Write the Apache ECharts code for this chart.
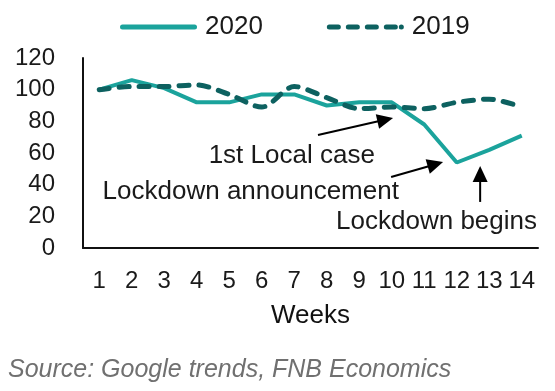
<!DOCTYPE html>
<html>
<head>
<meta charset="utf-8">
<script src="https://cdn.jsdelivr.net/npm/echarts@6/dist/echarts.min.js"></script>
<style>
html,body{margin:0;padding:0;background:#fff;}
#c{width:555px;height:391px;}
</style>
</head>
<body>
<div id="c"></div>
<script>
// ---- data ----
var weeks = ['1','2','3','4','5','6','7','8','9','10','11','12','13','14'];
var s2020 = [100, 106, 101, 92, 92, 97, 97, 90, 92, 92, 78, 54, 62, 71];
var s2019 = [100, 102, 102, 103, 97, 89, 102, 95, 88, 89, 88, 92, 94, 89];
var yTicks = { min: 0, max: 120, interval: 20 };
// annotations: [category index, value] in data space
var notes = [
  { text: '1st Local case',        at: [8.48, 58.1], from: [6.73, 71.4], to: [9.04, 82.1] },
  { text: 'Lockdown announcement', at: [9.22, 35.4], from: [8.98, 44.8], to: [10.58, 54.3] },
  { text: 'Lockdown begins',       at: [13.47, 16.4], from: [11.72, 29.1], to: [11.72, 51.8] }
];
var sourceText = 'Source: Google trends, FNB Economics';

var FONT = '"Liberation Sans", Arial, sans-serif';
var TXT = '#1a1a1a';
var C2020 = '#1ba39c', C2019 = '#0d6160';
var chart = echarts.init(document.getElementById('c'), null, { renderer: 'canvas' });

// legend icon shapes (77 x 5 box)
var iconSolid = 'path://M2.5,0 L74.5,0 A2.5,2.5 0 0 1 74.5,5 L2.5,5 A2.5,2.5 0 0 1 2.5,0 Z';
var iconDash = 'path://' +
  'M2.5,0 L11.5,0 A2.5,2.5 0 0 1 11.5,5 L2.5,5 A2.5,2.5 0 0 1 2.5,0 Z ' +
  'M21.5,0 L30.5,0 A2.5,2.5 0 0 1 30.5,5 L21.5,5 A2.5,2.5 0 0 1 21.5,0 Z ' +
  'M40.5,0 L49.5,0 A2.5,2.5 0 0 1 49.5,5 L40.5,5 A2.5,2.5 0 0 1 40.5,0 Z ' +
  'M59.5,0 L68.5,0 A2.5,2.5 0 0 1 68.5,5 L59.5,5 A2.5,2.5 0 0 1 59.5,0 Z ' +
  'M74.5,0 A2.5,2.5 0 0 1 74.5,5 A2.5,2.5 0 0 1 74.5,0 Z';

var option = {
  animation: false,
  backgroundColor: '#fff',
  textStyle: { fontFamily: FONT },
  grid: { left: 83, right: 17, top: 58, bottom: 143, containLabel: false },
  legend: {
    left: 115, top: 9,
    itemWidth: 77, itemHeight: 5, itemGap: 64,
    symbolKeepAspect: false,
    textStyle: { fontFamily: FONT, fontSize: 26, color: TXT, padding: [0, 0, 0, 3] },
    data: [
      { name: '2020', icon: iconSolid, itemStyle: { color: C2020 } },
      { name: '2019', icon: iconDash, itemStyle: { color: C2019 } }
    ]
  },
  xAxis: {
    type: 'category',
    data: weeks,
    boundaryGap: true,
    axisLine: { lineStyle: { color: '#111', width: 2 } },
    axisTick: { show: false },
    axisLabel: { fontFamily: FONT, fontSize: 24, color: TXT, margin: 21, interval: 0 },
    name: 'Weeks',
    nameLocation: 'middle',
    nameGap: 55,
    nameTextStyle: { fontFamily: FONT, fontSize: 26, color: '#111' }
  },
  yAxis: {
    type: 'value',
    min: yTicks.min, max: yTicks.max, interval: yTicks.interval,
    axisLine: { show: true, lineStyle: { color: '#111', width: 2 } },
    axisTick: { show: false },
    splitLine: { show: false },
    axisLabel: { fontFamily: FONT, fontSize: 24, color: TXT, margin: 28 }
  },
  series: [
    {
      name: '2020', type: 'line', data: s2020,
      symbol: 'none', smooth: false,
      lineStyle: { color: C2020, width: 4 },
      itemStyle: { color: C2020 },
      z: 3
    },
    {
      name: '2019', type: 'line', data: s2019,
      symbol: 'none', smooth: 0.3,
      lineStyle: { color: C2019, width: 5, type: [10, 10], cap: 'round' },
      itemStyle: { color: C2019 },
      z: 4
    }
  ]
};
chart.setOption(option);

function px(pt) {
  var a = chart.convertToPixel({ gridIndex: 0 }, [0, pt[1]]);
  var b = chart.convertToPixel({ gridIndex: 0 }, [1, pt[1]]);
  return [a[0] + (b[0] - a[0]) * pt[0], a[1]];
}

var graphics = [];
notes.forEach(function (n) {
  var p = px(n.at), f = px(n.from), t = px(n.to);
  graphics.push({
    type: 'text', x: p[0], y: p[1], z: 10,
    style: { text: n.text, fill: TXT, font: '26px ' + FONT, textAlign: 'right', textVerticalAlign: 'middle' }
  });
  var dx = t[0] - f[0], dy = t[1] - f[1], L = Math.sqrt(dx * dx + dy * dy);
  var ux = dx / L, uy = dy / L, hl = 16, hw = 7.5;
  var bx = t[0] - ux * hl, by = t[1] - uy * hl;
  graphics.push({
    type: 'line', z: 10,
    shape: { x1: f[0], y1: f[1], x2: bx + ux * 2, y2: by + uy * 2 },
    style: { stroke: '#000', lineWidth: 2 }
  });
  graphics.push({
    type: 'polygon', z: 10,
    shape: { points: [[t[0], t[1]], [bx - uy * hw, by + ux * hw], [bx + uy * hw, by - ux * hw]] },
    style: { fill: '#000' }
  });
});
graphics.push({
  type: 'text', left: 8, top: 358, z: 10,
  style: { text: sourceText, fill: '#707070', font: 'italic 25px ' + FONT }
});
chart.setOption({ graphic: graphics });
</script>
</body>
</html>
